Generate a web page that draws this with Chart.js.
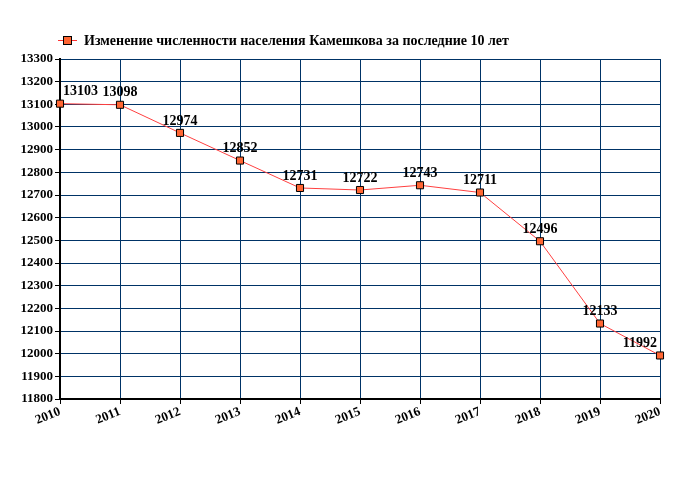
<!DOCTYPE html>
<html>
<head>
<meta charset="utf-8">
<script src="https://cdn.jsdelivr.net/npm/chart.js@4/dist/chart.umd.min.js"></script>
<style>
  body { margin: 0; background: #fff; }
  #wrap { width: 680px; height: 500px; }
</style>
</head>
<body>
<div id="wrap"><canvas id="popChart" width="680" height="500"></canvas></div>
<script>
// Data
const years = ['2010', '2011', '2012', '2013', '2014', '2015', '2016', '2017', '2018', '2019', '2020'];
const population = [13103, 13098, 12974, 12852, 12731, 12722, 12743, 12711, 12496, 12133, 11992];
const seriesName = 'Изменение численности населения Камешкова за последние 10 лет';

const serif = '"Liberation Serif", "Times New Roman", serif';

// Legend: line with square marker, drawn by hand
const legendPlugin = {
    id: 'topLegend',
    afterDraw(chart) {
        const ctx = chart.ctx;
        ctx.save();
        ctx.strokeStyle = '#ff3333';
        ctx.lineWidth = 1;
        ctx.beginPath();
        ctx.moveTo(58, 40.5);
        ctx.lineTo(77, 40.5);
        ctx.stroke();
        ctx.fillStyle = '#ff6633';
        ctx.strokeStyle = '#000';
        ctx.fillRect(63, 36, 9, 9);
        ctx.strokeRect(63.5, 36.5, 8, 8);
        ctx.fillStyle = '#000';
        ctx.font = 'bold 14px ' + serif;
        ctx.textBaseline = 'middle';
        ctx.textAlign = 'left';
        ctx.fillText(seriesName, 84, 41);
        ctx.restore();
    }
};

// Value labels above the points
const valueLabels = {
    id: 'valueLabels',
    afterDatasetsDraw(chart) {
        const ctx = chart.ctx;
        const area = chart.chartArea;
        const meta = chart.getDatasetMeta(0);
        ctx.save();
        ctx.font = 'bold 14px ' + serif;
        ctx.fillStyle = '#000';
        ctx.textBaseline = 'middle';
        ctx.textAlign = 'left';
        meta.data.forEach(function (pt, i) {
            const txt = String(population[i]);
            const w = ctx.measureText(txt).width;
            let x = pt.x - w / 2;
            if (x < area.left + 3) x = area.left + 3;
            if (x + w > area.right - 3) x = area.right - 3 - w;
            ctx.fillText(txt, x, pt.y - 12);
        });
        ctx.restore();
    }
};

document.addEventListener('DOMContentLoaded', function () {
    const canvas = document.getElementById('popChart').getContext('2d');

    new Chart(canvas, {
        type: 'line',
        data: {
            labels: years,
            datasets: [{
                label: seriesName,
                data: population,
                borderColor: '#ff4040',
                borderWidth: 1,
                backgroundColor: '#ff6633',
                pointStyle: 'rect',
                pointRadius: 5,
                pointHoverRadius: 5,
                pointBackgroundColor: '#ff6633',
                pointBorderColor: '#000',
                pointBorderWidth: 1,
                tension: 0
            }]
        },
        options: {
            responsive: false,
            animation: false,
            layout: { padding: { top: 59, right: 20, left: 0, bottom: 0 } },
            plugins: {
                legend: { display: false },
                tooltip: { enabled: false }
            },
            scales: {
                x: {
                    offset: false,
                    grid: { color: '#003366', lineWidth: 1, tickLength: 5, tickColor: '#000' },
                    border: { color: '#000', width: 2 },
                    ticks: {
                        color: '#000',
                        font: { family: serif, size: 13, weight: 'bold' },
                        minRotation: 22,
                        maxRotation: 22,
                        autoSkip: false,
                        padding: 0
                    },
                    afterFit(scale) { scale.height = 101; }
                },
                y: {
                    min: 11800,
                    max: 13300,
                    grid: { color: '#003366', lineWidth: 1, tickLength: 5, tickColor: '#000' },
                    border: { color: '#000', width: 2 },
                    ticks: {
                        stepSize: 100,
                        color: '#000',
                        font: { family: serif, size: 13, weight: 'bold' },
                        padding: 2,
                        callback: function (v) { return String(v); }
                    },
                    afterFit(scale) { scale.width = 60; }
                }
            }
        },
        plugins: [legendPlugin, valueLabels]
    });
});
</script>
</body>
</html>
